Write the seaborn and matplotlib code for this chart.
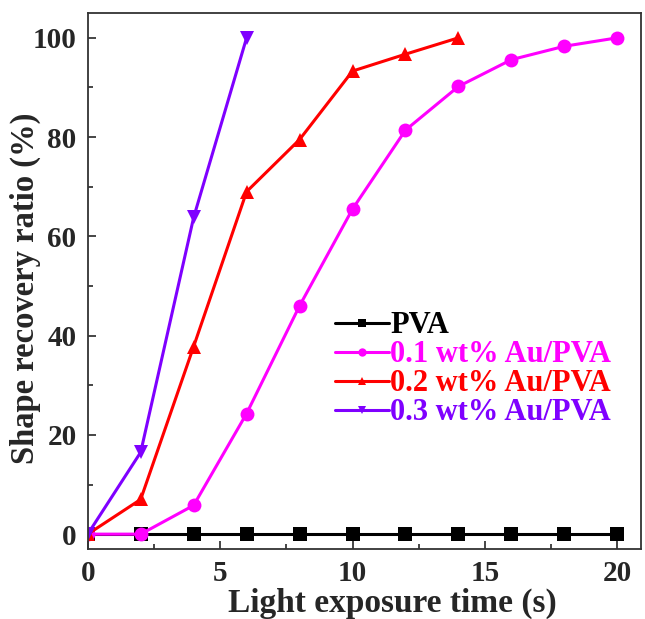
import numpy as np
import pandas as pd
import seaborn as sns
import matplotlib.pyplot as plt

# data
time_pva = [0, 2, 4, 6, 8, 10, 12, 14, 16, 18, 20]
ratio_pva = [0, 0, 0, 0, 0, 0, 0, 0, 0, 0, 0]
time_01 = [0, 2, 4, 6, 8, 10, 12, 14, 16, 18, 20]
ratio_01 = [0, 0, 5.8, 24.3, 46, 65.5, 81.4, 90.2, 95.6, 98.3, 100]
time_02 = [0, 2, 4, 6, 8, 10, 12, 14]
ratio_02 = [0, 7.0, 37.8, 69, 79.5, 93.3, 96.7, 100]
time_03 = [0, 2, 4, 6]
ratio_03 = [0, 16.5, 63.8, 100]

labels = ["PVA", "0.1 wt% Au/PVA", "0.2 wt% Au/PVA", "0.3 wt% Au/PVA"]
colors = ["#000000", "#FF00FF", "#FF0000", "#7F00FF"]
markers = ["s", "o", "^", "v"]

df = pd.concat([
    pd.DataFrame({"time": t, "ratio": r, "sample": lab})
    for t, r, lab in zip([time_pva, time_01, time_02, time_03],
                         [ratio_pva, ratio_01, ratio_02, ratio_03], labels)
])

sns.set_style("ticks")
plt.rcParams['font.family'] = ['Liberation Serif', 'DejaVu Serif']
plt.rcParams['font.weight'] = 'bold'
plt.rcParams['axes.labelweight'] = 'bold'

fig = plt.figure(figsize=(6.45, 6.19), dpi=100)
ax = fig.add_axes([0.136, 0.113, 0.858, 0.866])

sns.lineplot(data=df, x="time", y="ratio", hue="sample", style="sample",
             hue_order=labels, style_order=labels,
             palette=dict(zip(labels, colors)),
             markers=dict(zip(labels, markers)), dashes=False,
             linewidth=2.2, markersize=10, markeredgewidth=0, ax=ax)

ax.set_xlim(0, 20.9)
ax.set_ylim(-3, 105)
ax.set_xticks([0, 5, 10, 15, 20])
ax.set_yticks([0, 20, 40, 60, 80, 100])
ax.set_xticks(np.arange(2.5, 21, 5), minor=True)
ax.set_yticks(np.arange(10, 101, 20), minor=True)
ax.tick_params(which='both', direction='in', labelsize=21, width=1.2)
ax.tick_params(which='major', length=6)
ax.tick_params(which='minor', length=3.5)
ax.tick_params(axis='y', pad=8)
ax.tick_params(axis='x', pad=8)
for s in ax.spines.values():
    s.set_linewidth(1.3)
    s.set_color('#333333')

ax.set_xlabel("Light exposure time (s)", fontsize=24, labelpad=1)
ax.xaxis.set_label_coords(0.55, -0.072)
ax.set_ylabel("Shape recovery ratio (%)", fontsize=23.5)
ax.yaxis.set_label_coords(-0.085, 0.487)

leg = ax.legend(loc='upper left', bbox_to_anchor=(0.425, 0.466), frameon=False,
                fontsize=22, labelcolor='linecolor', handlelength=1.75,
                handletextpad=0.05, labelspacing=0.0, borderaxespad=0,
                markerscale=0.6)
for t in leg.get_texts():
    t.set_fontweight('bold')

fig.savefig("out.png", dpi=100)
